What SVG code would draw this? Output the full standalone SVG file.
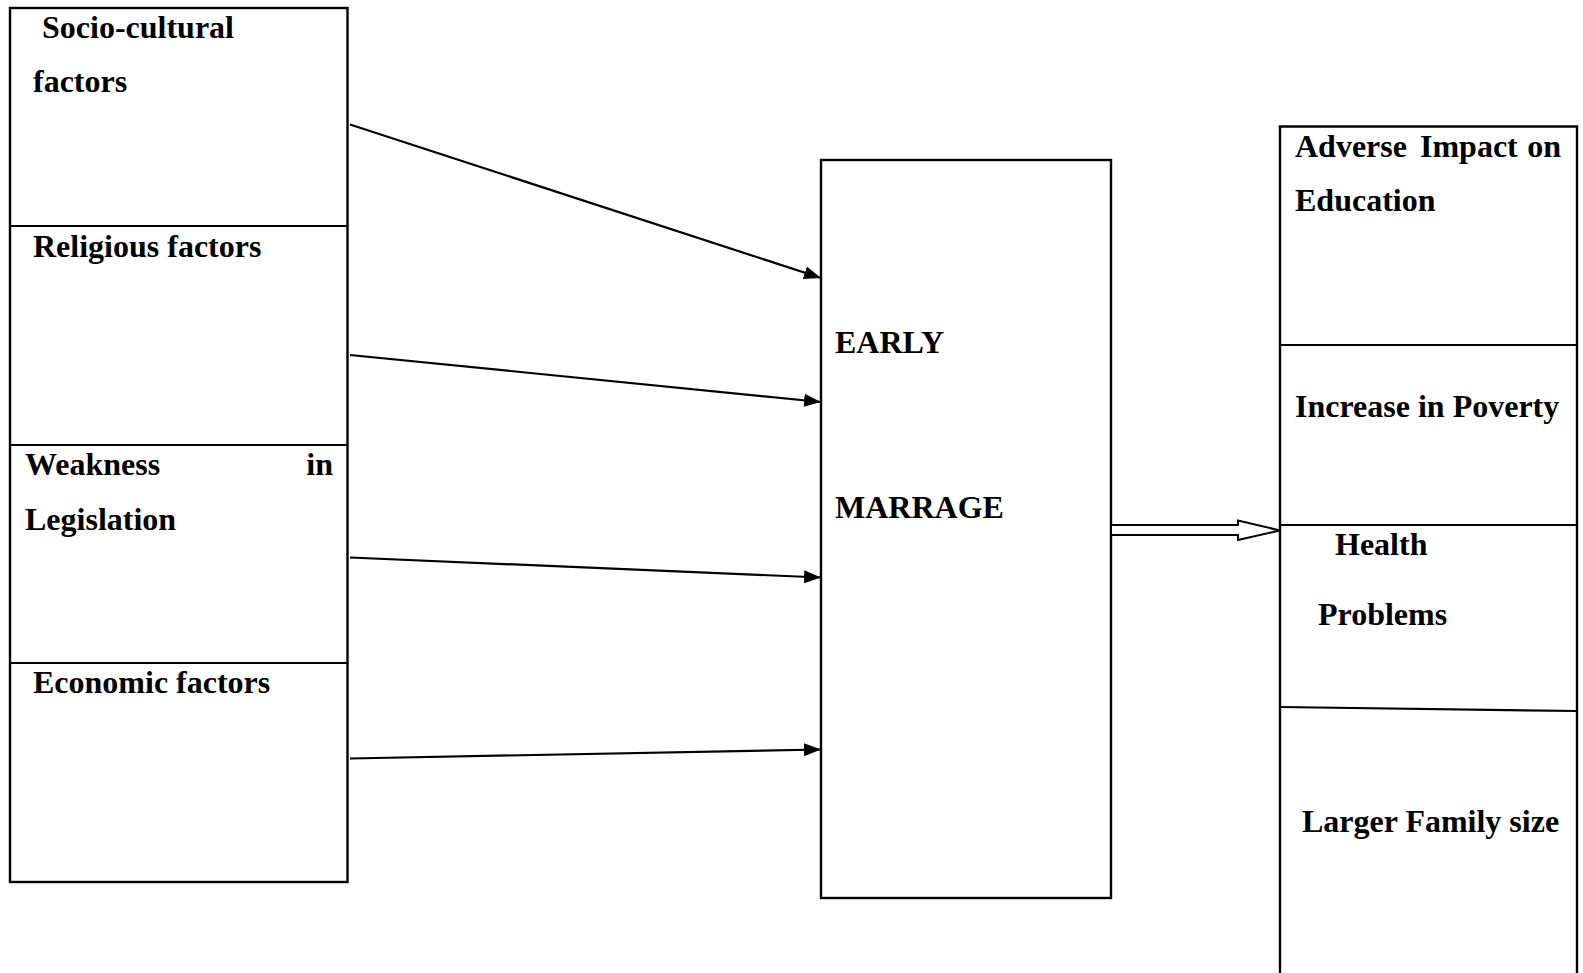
<svg xmlns="http://www.w3.org/2000/svg" width="1583" height="973" viewBox="0 0 1583 973">
<style>
.box{fill:none;stroke:#000;stroke-width:2.4}
.div{stroke:#000;stroke-width:2.2}
.t{font-family:"Liberation Serif","Times New Roman",serif;font-weight:bold;font-size:32px;fill:#000}
.e{text-anchor:end}
.conn{stroke:#000;stroke-width:2.2;fill:none}
</style>
<defs>
<marker id="ah" markerUnits="userSpaceOnUse" markerWidth="18" markerHeight="14" refX="17" refY="7" orient="auto">
<path d="M0,0.5 L17,7 L0,13.5 z" fill="#000"/>
</marker>
</defs>
<rect width="1583" height="973" fill="#fff"/>
<g id="causes">
<rect class="box" x="10" y="8" width="337.5" height="874"/>
<g id="socio">
<text class="t" x="42" y="38">Socio-cultural</text>
<text class="t" x="33" y="92">factors</text>
</g>
<line class="div" x1="10" y1="226" x2="347.5" y2="226"/>
<g id="religious">
<text class="t" x="33" y="257">Religious factors</text>
</g>
<line class="div" x1="10" y1="445" x2="347.5" y2="445"/>
<g id="legislation">
<text class="t" x="25" y="475">Weakness</text>
<text class="t e" x="333" y="475">in</text>
<text class="t" x="25" y="530">Legislation</text>
</g>
<line class="div" x1="10" y1="663" x2="347.5" y2="663"/>
<g id="economic">
<text class="t" x="33" y="693">Economic factors</text>
</g>
</g>
<g id="early-marriage">
<rect class="box" x="821" y="160" width="290" height="738"/>
<text class="t" x="835" y="353">EARLY</text>
<text class="t" x="835" y="518">MARRAGE</text>
</g>
<g id="effects">
<path class="box" d="M1280,973 V126.5 H1577 V973"/>
<g id="education">
<text class="t" x="1295" y="157">Adverse</text>
<text class="t" x="1420" y="157">Impact</text>
<text class="t e" x="1561" y="157">on</text>
<text class="t" x="1295" y="211">Education</text>
</g>
<line class="div" x1="1280" y1="345" x2="1577" y2="345"/>
<g id="poverty">
<text class="t" x="1295" y="417">Increase in Poverty</text>
</g>
<line class="div" x1="1280" y1="525" x2="1577" y2="525"/>
<g id="health">
<text class="t" x="1335" y="555">Health</text>
<text class="t" x="1318" y="625">Problems</text>
</g>
<line class="div" x1="1280" y1="707" x2="1577" y2="711"/>
<g id="family">
<text class="t" x="1302" y="832">Larger Family size</text>
</g>
</g>
<g id="connectors">
<line class="conn" x1="350" y1="124.5" x2="821" y2="278" marker-end="url(#ah)"/>
<line class="conn" x1="350" y1="355" x2="821" y2="402" marker-end="url(#ah)"/>
<line class="conn" x1="350" y1="557.5" x2="821" y2="577.5" marker-end="url(#ah)"/>
<line class="conn" x1="350" y1="758.5" x2="821" y2="749.5" marker-end="url(#ah)"/>
<polygon points="1111,525 1238,525 1238,520.5 1280,530.5 1238,540 1238,535 1111,535" fill="#fff" stroke="#000" stroke-width="2"/>
</g>
</svg>
